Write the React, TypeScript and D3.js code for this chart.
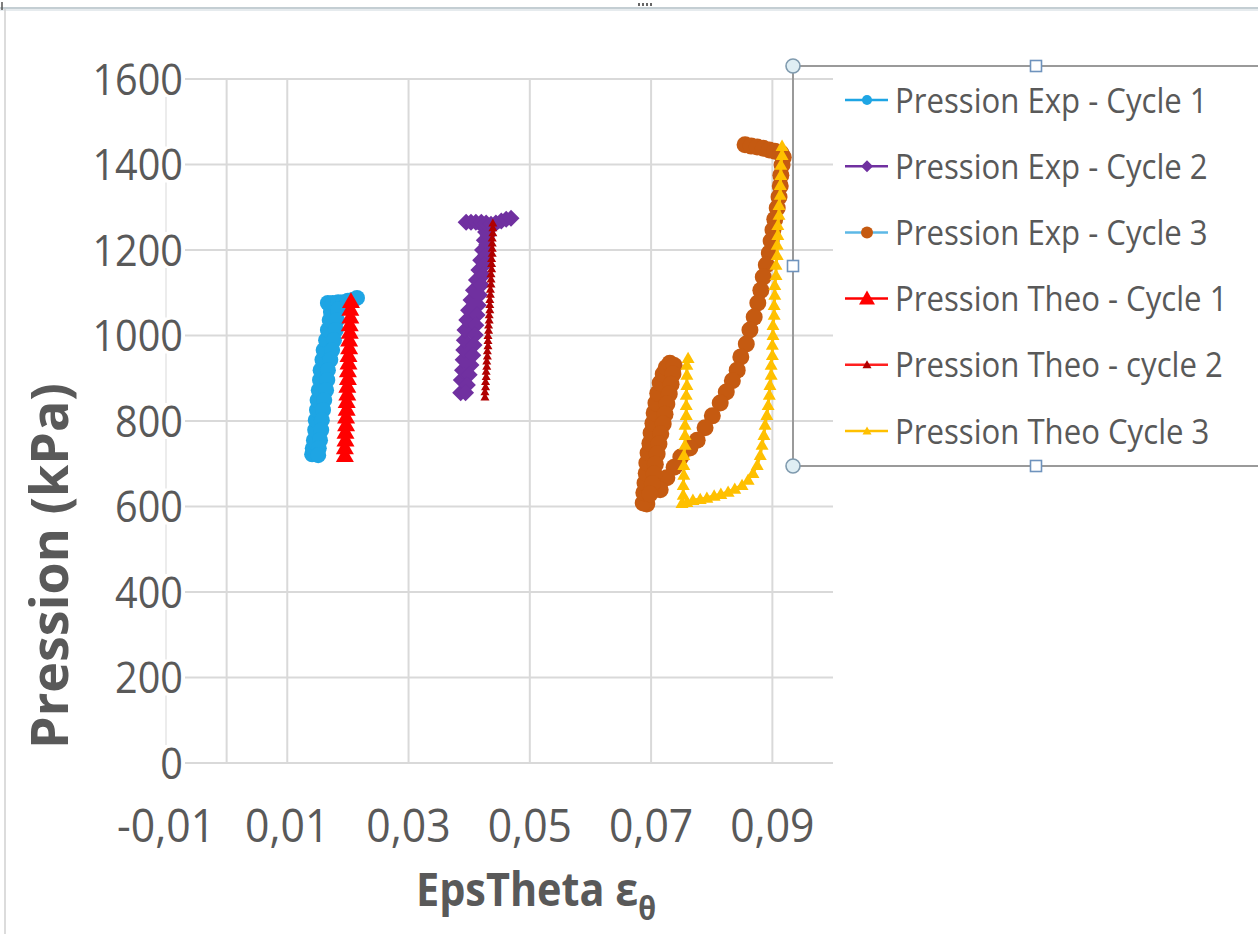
import React from 'react';
import * as d3 from 'd3';

const W = 1258;
const H = 934;

// axis ticks (Excel drops every other x label)
const xTicks = [-0.01, 0.01, 0.03, 0.05, 0.07, 0.09];
const yTicks = [0, 200, 400, 600, 800, 1000, 1200, 1400, 1600];
const xLabels = ['-0,01', '0,01', '0,03', '0,05', '0,07', '0,09'];

// [EpsTheta, Pression kPa]
const expCycle1 = [
  [0.0141, 722], [0.0142, 736], [0.0144, 755], [0.0146, 779], [0.0147, 802], [0.0149, 826], [0.0150, 849],
  [0.0152, 872], [0.0154, 896], [0.0155, 919], [0.0158, 943], [0.0160, 966], [0.0164, 989], [0.0167, 1013],
  [0.0170, 1036], [0.0172, 1055],
  [0.0167, 1076], [0.0175, 1076], [0.0184, 1078], [0.0192, 1078], [0.0200, 1081], [0.0208, 1083], [0.0215, 1088],
  [0.0184, 1061], [0.0182, 1036], [0.0180, 1013], [0.0177, 989], [0.0174, 966], [0.0171, 943], [0.0167, 919],
  [0.0166, 896], [0.0164, 872], [0.0161, 849], [0.0159, 826], [0.0157, 802], [0.0156, 779], [0.0154, 755],
  [0.0152, 736], [0.0151, 720],
];

const expCycle2 = [
  [0.0386, 866], [0.0387, 896], [0.0389, 919], [0.0390, 943], [0.0391, 966], [0.0392, 989], [0.0393, 1013],
  [0.0396, 1036], [0.0399, 1059], [0.0403, 1083], [0.0407, 1106], [0.0412, 1130], [0.0416, 1153], [0.0419, 1176],
  [0.0422, 1200], [0.0425, 1223], [0.0427, 1242],
  [0.0395, 1265], [0.0403, 1265], [0.0411, 1265], [0.0420, 1265], [0.0428, 1263], [0.0436, 1260], [0.0444, 1263],
  [0.0453, 1268], [0.0461, 1272], [0.0469, 1274],
  [0.0431, 1235], [0.0429, 1212], [0.0427, 1188], [0.0425, 1165], [0.0423, 1141], [0.0420, 1118], [0.0417, 1095],
  [0.0415, 1071], [0.0413, 1048], [0.0411, 1024], [0.0410, 1001], [0.0408, 978], [0.0406, 954], [0.0403, 931],
  [0.0400, 908], [0.0397, 884], [0.0394, 866],
];

const expCycle3 = [
  [0.0855, 1446], [0.0865, 1443], [0.0875, 1441], [0.0885, 1438], [0.0895, 1434], [0.0904, 1431], [0.0914, 1427],
  [0.0918, 1417], [0.0916, 1399], [0.0914, 1375], [0.0913, 1350], [0.0911, 1324], [0.0908, 1298], [0.0904, 1272],
  [0.0901, 1247], [0.0898, 1221], [0.0895, 1193], [0.0890, 1165], [0.0885, 1137], [0.0881, 1106], [0.0876, 1076],
  [0.0870, 1043], [0.0863, 1013], [0.0857, 980], [0.0848, 950], [0.0842, 919], [0.0834, 894], [0.0824, 868],
  [0.0814, 842], [0.0801, 812], [0.0789, 784], [0.0776, 755], [0.0764, 737], [0.0749, 716], [0.0738, 692],
  [0.0726, 667], [0.0715, 639],
  [0.0693, 606], [0.0687, 608], [0.0688, 632], [0.0690, 655], [0.0692, 678], [0.0693, 702], [0.0695, 725],
  [0.0698, 748], [0.0700, 772], [0.0703, 795], [0.0705, 819], [0.0708, 842], [0.0711, 865], [0.0715, 889],
  [0.0720, 910], [0.0725, 925], [0.0731, 935],
  [0.0738, 930], [0.0736, 910], [0.0733, 886], [0.0730, 863], [0.0726, 840], [0.0723, 816], [0.0720, 793],
  [0.0716, 770], [0.0713, 746], [0.0710, 723], [0.0707, 699], [0.0705, 676], [0.0702, 653], [0.0698, 629],
];

const theoCycle1 = [
  [0.0195, 720], [0.0195, 738], [0.0196, 756], [0.0196, 774], [0.0197, 792], [0.0197, 810], [0.0198, 828],
  [0.0198, 846], [0.0199, 864], [0.0199, 882], [0.0200, 900], [0.0200, 918], [0.0201, 936], [0.0201, 954],
  [0.0202, 972], [0.0202, 990], [0.0203, 1008], [0.0203, 1026], [0.0204, 1044], [0.0204, 1062], [0.0205, 1080],
];

const theoCycle2 = [
  [0.0426, 856], [0.0426, 868], [0.0427, 880], [0.0427, 892], [0.0428, 904], [0.0428, 916], [0.0429, 928],
  [0.0429, 940], [0.0430, 952], [0.0430, 964], [0.0431, 976], [0.0431, 988], [0.0431, 1000], [0.0432, 1012],
  [0.0432, 1024], [0.0433, 1036], [0.0433, 1048], [0.0434, 1060], [0.0434, 1072], [0.0434, 1084], [0.0435, 1096],
  [0.0435, 1108], [0.0436, 1120], [0.0436, 1132], [0.0436, 1144], [0.0437, 1156], [0.0437, 1168], [0.0437, 1180],
  [0.0438, 1192], [0.0438, 1204], [0.0438, 1216], [0.0438, 1228], [0.0439, 1240], [0.0439, 1252], [0.0439, 1263],
];

const theoCycle3 = [
  [0.0916, 1443], [0.0916, 1422], [0.0914, 1399], [0.0914, 1375], [0.0913, 1352], [0.0913, 1329], [0.0911, 1305],
  [0.0911, 1282], [0.0909, 1258], [0.0909, 1235], [0.0908, 1212], [0.0908, 1188], [0.0906, 1165], [0.0906, 1141],
  [0.0904, 1118], [0.0904, 1095], [0.0903, 1071], [0.0903, 1048], [0.0901, 1024], [0.0901, 1001], [0.0900, 978],
  [0.0900, 954], [0.0898, 931], [0.0898, 908], [0.0896, 884], [0.0895, 861], [0.0893, 837], [0.0891, 814],
  [0.0888, 791], [0.0886, 767], [0.0883, 744], [0.0880, 720], [0.0875, 697], [0.0868, 678], [0.0860, 662],
  [0.0850, 650], [0.0838, 641], [0.0827, 634], [0.0815, 629], [0.0804, 625], [0.0792, 620], [0.0781, 617],
  [0.0769, 615], [0.0759, 610], [0.0751, 608],
  [0.0753, 627], [0.0753, 650], [0.0754, 674], [0.0754, 697], [0.0754, 720], [0.0756, 744], [0.0756, 767],
  [0.0756, 791], [0.0758, 814], [0.0758, 837], [0.0758, 861], [0.0759, 884], [0.0759, 908], [0.0759, 931],
  [0.0761, 947],
];

const seriesNames = [
  'Pression Exp - Cycle 1',
  'Pression Exp - Cycle 2',
  'Pression Exp - Cycle 3',
  'Pression Theo - Cycle 1',
  'Pression Theo - cycle 2',
  'Pression Theo Cycle 3',
];

const series = [
  { name: seriesNames[0], data: expCycle1, line: '#1ea5e4', fill: '#1ea5e4', shape: 'circle', r: 8, lr: 5 },
  { name: seriesNames[1], data: expCycle2, line: '#7030a0', fill: '#7030a0', shape: 'diamond', r: 8.5, lr: 6 },
  { name: seriesNames[2], data: expCycle3, line: '#5db8e6', fill: '#c55a11', shape: 'circle', r: 8.5, lr: 6 },
  { name: seriesNames[3], data: theoCycle1, line: '#ff0000', fill: '#ff0000', shape: 'triangle', r: 9, lr: 8 },
  { name: seriesNames[4], data: theoCycle2, line: '#ff2020', fill: '#b00000', shape: 'triangle', r: 4.5, lr: 4.5 },
  { name: seriesNames[5], data: theoCycle3, line: '#ffc000', fill: '#ffc000', shape: 'triangle', r: 6.5, lr: 4.5 },
];

const TEXT = '#595959';
const FONT = '"Open Sans", "Noto Sans", sans-serif';

function markerPath(shape: string, r: number) {
  if (shape === 'circle') return d3.symbol(d3.symbolCircle, Math.PI * r * r)();
  if (shape === 'diamond') return `M0,${-r}L${r},0L0,${r}L${-r},0Z`;
  return `M0,${-r}L${r},${r * 0.75}L${-r},${r * 0.75}Z`;
}

// Calibri-like narrow text: Open Sans squeezed horizontally
function SqText({ x, y, size, anchor = 'start', weight = 400, sx = 0.87, rotate = 0, children }: any) {
  return (
    <text
      transform={`translate(${x},${y}) rotate(${rotate}) scale(${sx},1)`}
      fontFamily={FONT}
      fontSize={size}
      fontWeight={weight}
      fill={TEXT}
      textAnchor={anchor}
    >
      {children}
    </text>
  );
}

function Handle({ cx, cy, kind }: any) {
  return kind === 'circle'
    ? <circle cx={cx} cy={cy} r={7} fill="#dfeef4" stroke="#7f9aae" strokeWidth={1.6} />
    : <rect x={cx - 5.5} y={cy - 5.5} width={11} height={11} fill="#fff" stroke="#6f93bd" strokeWidth={1.6} />;
}

export default function App() {
  const x = d3.scaleLinear().domain([-0.01, 0.1]).range([166, 833]);
  const y = d3.scaleLinear().domain([0, 1600]).range([763, 79]);
  const [x0, x1] = x.range();
  const line = d3.line<number[]>().x(d => x(d[0])).y(d => y(d[1]));

  const legendX = 793;
  const legendTop = 66;
  const legendBottom = 466;
  const rowY = (i: number) => 100 + i * 66.2;

  return (
    <div>
      <style>{'body{margin:0}'}</style>
      <svg width={W} height={H} style={{ display: 'block', background: '#fff' }}>
        {/* window frame */}
        <line x1={0} x2={W} y1={9} y2={9} stroke="#e6ebee" strokeWidth={4} />
        <line x1={0} x2={W} y1={8} y2={8} stroke="#b9c4ca" strokeWidth={1.5} />
        <line x1={5} x2={5} y1={9} y2={H} stroke="#d0d0d0" strokeWidth={1.5} />
        <line x1={2} x2={2} y1={2} y2={10} stroke="#555" strokeWidth={1.5} />
        {[0, 1, 2, 3].map(i => <rect key={i} x={638 + i * 4} y={3} width={2} height={3} fill="#666" />)}

        {/* gridlines */}
        {xTicks.map((t, i) => (
          <line key={t} x1={x(t)} x2={x(t)} y1={y(1600)} y2={y(0)}
            stroke={i === 0 ? '#ececec' : '#d9d9d9'} strokeWidth={2} />
        ))}
        <line x1={x(0)} x2={x(0)} y1={y(1600)} y2={y(0)} stroke="#d9d9d9" strokeWidth={2} />
        {yTicks.map(t => (
          <line key={t} x1={x0} x2={x1} y1={y(t)} y2={y(t)} stroke="#d9d9d9" strokeWidth={2} />
        ))}

        {/* tick labels (white box behind, as Excel does) */}
        {yTicks.map(t => (
          <g key={t}>
            <rect x={90} y={y(t) - 18} width={95} height={36} fill="#fff" />
            <SqText x={183} y={y(t) + 15.5} size={44} anchor="end" sx={0.9}>{t}</SqText>
          </g>
        ))}
        {xTicks.map((t, i) => (
          <SqText key={t} x={x(t)} y={842} size={45} anchor="middle" sx={0.95}>{xLabels[i]}</SqText>
        ))}

        {/* axis titles */}
        <SqText x={68} y={566} size={52} weight={700} anchor="middle" rotate={-90} sx={1.0}>Pression (kPa)</SqText>
        <text transform="translate(416,906) scale(0.9,1)" fontFamily={FONT} fontSize={46} fontWeight={700} fill={TEXT}>
          EpsTheta ε<tspan fontSize={32} dy={14}>θ</tspan>
        </text>

        {/* series */}
        {series.map(s => (
          <g key={s.name}>
            <path d={line(s.data) || ''} fill="none" stroke={s.line} strokeWidth={3} strokeLinejoin="round" />
            {s.data.map((d, i) => (
              <path key={i} d={markerPath(s.shape, s.r) || ''} transform={`translate(${x(d[0])},${y(d[1])})`}
                fill={s.fill} />
            ))}
          </g>
        ))}

        {/* legend */}
        {series.map((s, i) => (
          <g key={s.name}>
            <line x1={845} x2={888} y1={rowY(i)} y2={rowY(i)} stroke={s.line} strokeWidth={2.5} />
            <path d={markerPath(s.shape, s.lr) || ''} transform={`translate(867,${rowY(i)})`} fill={s.fill} />
            <SqText x={895} y={rowY(i) + 12.5} size={35} sx={0.89}>{s.name}</SqText>
          </g>
        ))}

        {/* legend selection frame */}
        <g stroke="#9a9a9a" strokeWidth={2}>
          <line x1={legendX} x2={W} y1={legendTop} y2={legendTop} />
          <line x1={legendX} x2={W} y1={legendBottom} y2={legendBottom} />
          <line x1={legendX} x2={legendX} y1={legendTop} y2={legendBottom} />
        </g>
        <Handle cx={legendX} cy={legendTop} kind="circle" />
        <Handle cx={legendX} cy={legendBottom} kind="circle" />
        <Handle cx={1036} cy={legendTop} kind="square" />
        <Handle cx={1036} cy={legendBottom} kind="square" />
        <Handle cx={legendX} cy={(legendTop + legendBottom) / 2} kind="square" />
      </svg>
    </div>
  );
}
